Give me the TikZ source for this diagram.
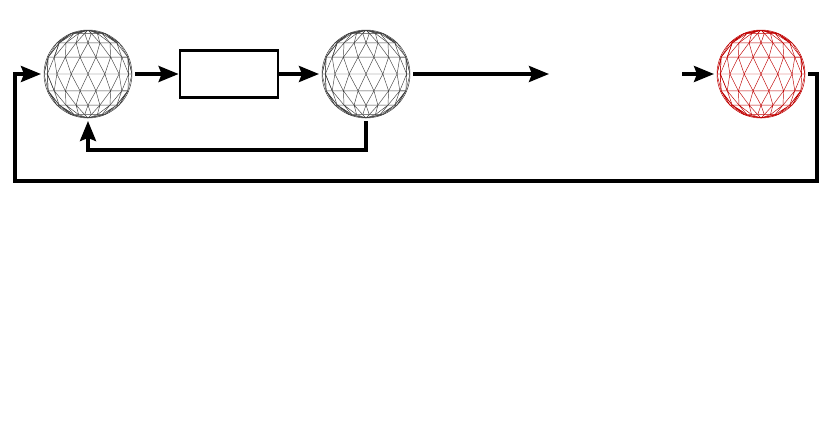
\documentclass[tikz,border=0pt]{standalone}
\usetikzlibrary{positioning}
\usetikzlibrary{arrows.meta}

\tikzset{
  ball/.style={circle,minimum size=88pt,inner sep=0pt,outer sep=3pt},
  flow/.style={line width=3.4pt,-{Stealth[length=20pt,width=16pt,inset=3pt]}},
  mesh/.pic={
    \begin{scope}
      \clip (0,0) circle (44);
      \foreach \a in {-90,-67.5,...,67.5}{
        \pgfmathsetmacro\o{mod((\a+90)/22.5,2)*11.25}
        \foreach \b in {-112.5,-90,...,90}{
          \draw[line width=0.45pt] ({44*cos(\a)*sin(\b+\o)},{44*sin(\a)})
            -- ({44*cos(\a)*sin(\b+\o+22.5)},{44*sin(\a)})
            ({44*cos(\a)*sin(\b+\o)},{44*sin(\a)})
            -- ({44*cos(\a+22.5)*sin(\b+\o+11.25)},{44*sin(\a+22.5)})
            ({44*cos(\a)*sin(\b+\o)},{44*sin(\a)})
            -- ({44*cos(\a+22.5)*sin(\b+\o-11.25)},{44*sin(\a+22.5)});
        }
      }
    \end{scope}
    \draw[line width=0.5pt] (0,0) circle (44);
  }
}

\begin{document}
\begin{tikzpicture}[x=1pt,y=-1pt]
\useasboundingbox (0,0) rectangle (830,432);
\node[ball] (in) at (88,74) {};
\node[draw,line width=2.8pt,minimum width=98pt,minimum height=47pt] (box) at (229,74) {};
\node[ball] (mid) at (366,74) {};
\node[ball] (out) at (761,74) {};
\coordinate (gapl) at (549,74);
\coordinate (gapr) at (682,74);
\pic[black!75] at (in) {mesh};
\pic[black!75] at (mid) {mesh};
\pic[red!75!black] at (out) {mesh};

\draw[flow] (in) -- (box);
\draw[flow] (box) -- (mid);
\draw[flow] (mid) -- (gapl);
\draw[flow] (gapr) -- (out);
\draw[flow] (mid.south) -- ++(0,29) -| (in.south);
\draw[flow] (out.east) -- ++(9,0) |- (15,181) |- (in.west);
\end{tikzpicture}
\end{document}
